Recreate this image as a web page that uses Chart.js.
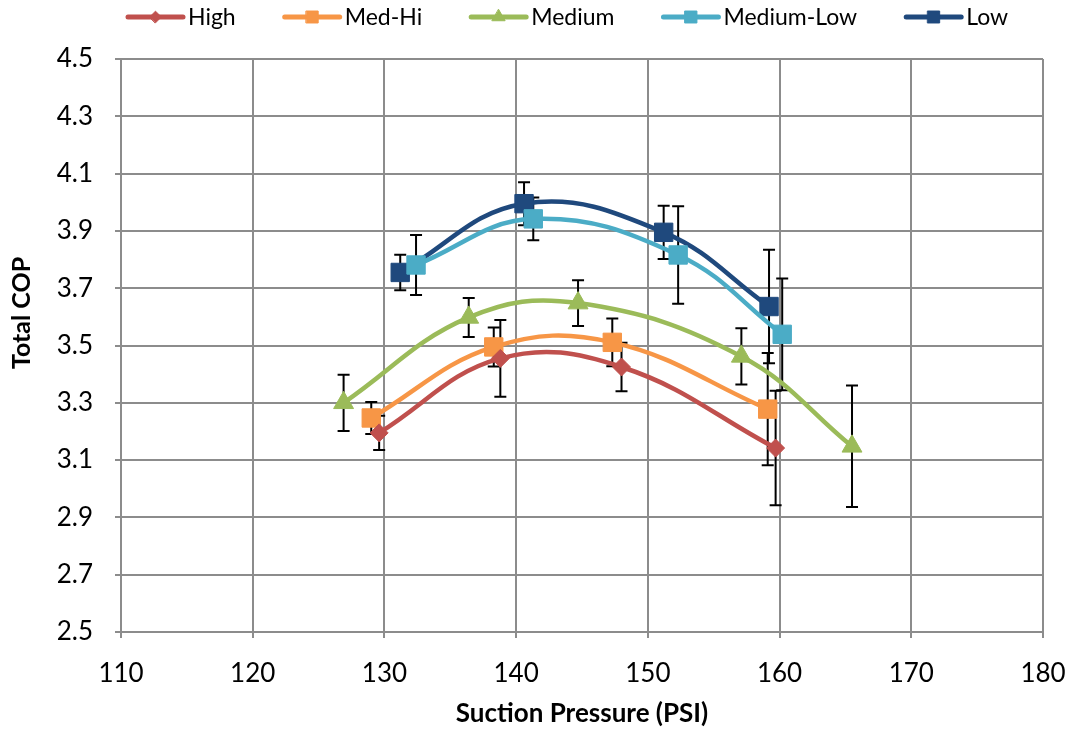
<!DOCTYPE html>
<html>
<head>
<meta charset="utf-8">
<script src="https://cdn.jsdelivr.net/npm/chart.js@4"></script>
<style>
  html, body { margin: 0; padding: 0; background: #fff; }
  canvas { display: block; }
</style>
</head>
<body>
<canvas id="cop-chart" width="1073" height="732"></canvas>
<script>
// COP vs suction pressure, one series per fan speed, with +/- error
const seriesNames = ['High', 'Med-Hi', 'Medium', 'Medium-Low', 'Low'];

const highX = [129.6, 138.8, 148.0, 159.7];
const highY = [3.195, 3.455, 3.425, 3.142];
const highErr = [0.06, 0.134, 0.085, 0.20];

const medHiX = [129.0, 138.3, 147.3, 159.1];
const medHiY = [3.247, 3.495, 3.511, 3.278];
const medHiErr = [0.056, 0.068, 0.083, 0.196];

const mediumX = [126.9, 136.4, 144.7, 157.1, 165.5];
const mediumY = [3.30, 3.598, 3.648, 3.462, 3.148];
const mediumErr = [0.098, 0.068, 0.08, 0.098, 0.212];

const medLowX = [132.4, 141.3, 152.3, 160.2];
const medLowY = [3.781, 3.942, 3.816, 3.539];
const medLowErr = [0.105, 0.075, 0.17, 0.195];

const lowX = [131.2, 140.6, 151.2, 159.2];
const lowY = [3.755, 3.995, 3.895, 3.636];
const lowErr = [0.062, 0.075, 0.093, 0.198];

const xTicks = { min: 110, max: 180, step: 10 };
const yTicks = { min: 2.5, max: 4.5, step: 0.2 };

const xTitle = 'Suction Pressure (PSI)';
const yTitle = 'Total COP';

const FONT = 'Lato';

function toPoints(xs, ys) {
    return xs.map((x, i) => ({ x: x, y: ys[i] }));
}

function makeSeries(label, xs, ys, errs, color, style, radius) {
    return {
        label: label,
        data: toPoints(xs, ys),
        errors: errs,
        showLine: true,
        borderColor: color,
        backgroundColor: color,
        borderWidth: 4.5,
        tension: 0.4,
        pointStyle: style,
        pointRadius: radius,
        pointHoverRadius: radius,
        pointBackgroundColor: color,
        pointBorderColor: color,
        pointBorderWidth: 1
    };
}

// Vertical error bars with caps, drawn under the lines and markers
const errorBars = {
    id: 'errorBars',
    beforeDatasetsDraw(chart) {
        const { ctx, scales: { x, y } } = chart;
        ctx.save();
        ctx.strokeStyle = '#000';
        ctx.lineWidth = 2;
        chart.data.datasets.forEach(ds => {
            ds.data.forEach((p, i) => {
                const e = ds.errors[i];
                const px = x.getPixelForValue(p.x);
                const top = y.getPixelForValue(p.y + e);
                const bot = y.getPixelForValue(p.y - e);
                ctx.beginPath();
                ctx.moveTo(px, top); ctx.lineTo(px, bot);
                ctx.moveTo(px - 6, top); ctx.lineTo(px + 6, top);
                ctx.moveTo(px - 6, bot); ctx.lineTo(px + 6, bot);
                ctx.stroke();
            });
        });
        ctx.restore();
    }
};

// Legend entries as a line sample with the marker in its middle
const lineLegend = {
    id: 'lineLegend',
    afterDraw(chart, args, opts) {
        const ctx = chart.ctx;
        ctx.save();
        ctx.font = opts.font;
        ctx.textBaseline = 'middle';
        ctx.textAlign = 'left';
        let x = opts.left;
        chart.data.datasets.forEach(ds => {
            ctx.strokeStyle = ds.borderColor;
            ctx.lineWidth = 5;
            ctx.lineCap = 'round';
            ctx.beginPath();
            ctx.moveTo(x, opts.y);
            ctx.lineTo(x + opts.lineLength, opts.y);
            ctx.stroke();
            ctx.fillStyle = ds.pointBackgroundColor;
            ctx.lineWidth = 1;
            Chart.helpers.drawPoint(ctx, {
                pointStyle: ds.pointStyle,
                radius: ds.pointRadius * 0.65,
                rotation: 0,
                borderWidth: 1
            }, x + opts.lineLength / 2, opts.y);
            ctx.fillStyle = '#000';
            const tx = x + opts.lineLength + opts.textGap;
            ctx.fillText(ds.label, tx, opts.y + 1);
            x = tx + ctx.measureText(ds.label).width + opts.itemGap;
        });
        ctx.restore();
    }
};

// Rotated y-axis title, placed beside the upper-middle of the axis
const yAxisTitle = {
    id: 'yAxisTitle',
    afterDraw(chart, args, opts) {
        const ctx = chart.ctx;
        ctx.save();
        ctx.translate(opts.x, opts.y);
        ctx.rotate(-Math.PI / 2);
        ctx.font = opts.font;
        ctx.fillStyle = '#000';
        ctx.textAlign = 'center';
        ctx.textBaseline = 'middle';
        ctx.fillText(opts.text, 0, 0);
        ctx.restore();
    }
};

const gridColor = '#8c8c8c';

new Chart(document.getElementById('cop-chart'), {
    type: 'scatter',
    data: {
        datasets: [
            makeSeries(seriesNames[0], highX, highY, highErr, '#C0504D', 'rectRot', 9),
            makeSeries(seriesNames[1], medHiX, medHiY, medHiErr, '#F79646', 'rect', 13),
            makeSeries(seriesNames[2], mediumX, mediumY, mediumErr, '#9BBB59', 'triangle', 11.5),
            makeSeries(seriesNames[3], medLowX, medLowY, medLowErr, '#4BACC6', 'rect', 13),
            makeSeries(seriesNames[4], lowX, lowY, lowErr, '#1F497D', 'rect', 13)
        ]
    },
    options: {
        responsive: false,
        animation: false,
        events: [],
        layout: { padding: { top: 59, right: 30, bottom: 0, left: 0 } },
        plugins: {
            legend: { display: false },
            tooltip: { enabled: false },
            lineLegend: {
                left: 128,
                y: 17,
                lineLength: 55,
                textGap: 5,
                itemGap: 49,
                font: '23px ' + FONT
            },
            yAxisTitle: {
                text: yTitle,
                x: 22,
                y: 313,
                font: 'bold 25px ' + FONT
            }
        },
        scales: {
            x: {
                type: 'linear',
                min: xTicks.min,
                max: xTicks.max,
                afterFit: scale => {
                    scale.height = 100;
                    scale.paddingLeft = 0;
                    scale.paddingRight = 0;
                },
                ticks: {
                    stepSize: xTicks.step,
                    color: '#000',
                    font: { family: FONT, size: 26 },
                    padding: 20
                },
                grid: { color: gridColor, lineWidth: 2, tickLength: 6 },
                border: { color: gridColor, width: 2 },
                title: {
                    display: true,
                    text: xTitle,
                    color: '#000',
                    font: { family: FONT, size: 26, weight: 'bold' },
                    padding: { top: 0, bottom: 3 }
                }
            },
            y: {
                type: 'linear',
                min: yTicks.min,
                max: yTicks.max,
                afterFit: scale => { scale.width = 121; },
                ticks: {
                    stepSize: yTicks.step,
                    color: '#000',
                    font: { family: FONT, size: 26 },
                    padding: 22,
                    callback: v => v.toFixed(1)
                },
                grid: { color: gridColor, lineWidth: 2, tickLength: 6 },
                border: { color: gridColor, width: 2 }
            }
        }
    },
    plugins: [errorBars, lineLegend, yAxisTitle]
});
</script>
</body>
</html>
